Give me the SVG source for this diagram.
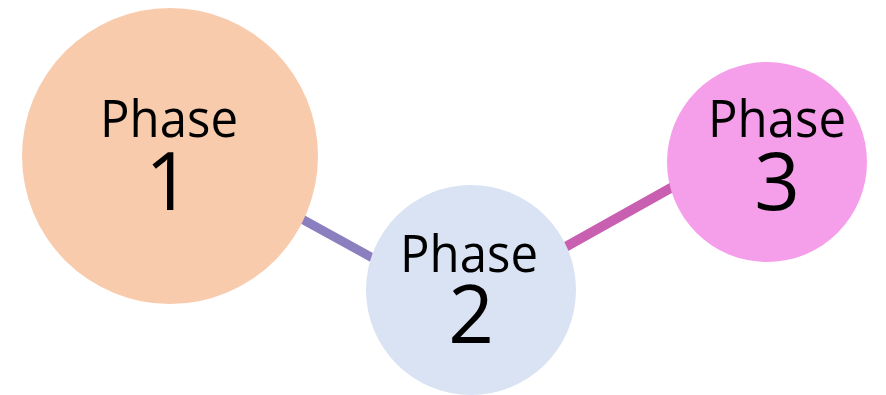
<svg xmlns="http://www.w3.org/2000/svg" width="886" height="395" viewBox="0 0 886 395">
<style>
.lbl{font-family:"Open Sans","Liberation Sans",sans-serif;fill:#000;text-anchor:middle}
.ph{font-size:51px}
.num{font-size:80px}
</style>
<rect width="886" height="395" fill="#fff"/>
<g id="connectors">
<line x1="300" y1="218" x2="380" y2="262" stroke="#8b7fc0" stroke-width="9"/>
<line x1="560" y1="250" x2="685" y2="180" stroke="#c85fb0" stroke-width="10"/>
</g>
<g id="phase1">
<circle cx="170" cy="156" r="148" fill="#f8cbad"/>
<text class="lbl ph" x="169" y="137" textLength="138" lengthAdjust="spacingAndGlyphs">Phase</text>
<text class="lbl num" x="168" y="210">1</text>
</g>
<g id="phase2">
<circle cx="471" cy="290" r="105" fill="#dae3f3"/>
<text class="lbl ph" x="469" y="272" textLength="138" lengthAdjust="spacingAndGlyphs">Phase</text>
<text class="lbl num" x="471" y="343">2</text>
</g>
<g id="phase3">
<circle cx="767" cy="162" r="100" fill="#f59fea"/>
<text class="lbl ph" x="777" y="137" textLength="138" lengthAdjust="spacingAndGlyphs">Phase</text>
<text class="lbl num" x="777" y="210">3</text>
</g>
</svg>
